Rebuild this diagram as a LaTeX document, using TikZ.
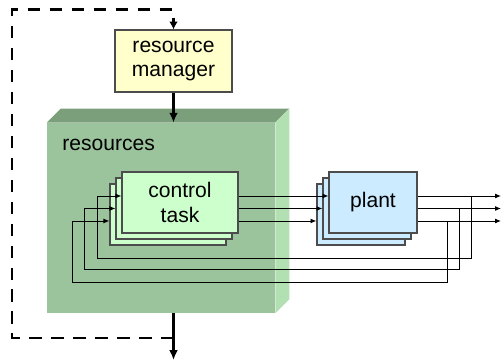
\documentclass[tikz,border=0pt]{standalone}
\usepackage{fontspec}
\setmainfont{Liberation Sans}
\usetikzlibrary{arrows.meta}
\definecolor{mgrfill}{HTML}{FFFFCC}
\definecolor{ctrlfill}{HTML}{CCFFCC}
\definecolor{plantfill}{HTML}{CCEBFF}
\definecolor{resfront}{HTML}{9CC49C}
\definecolor{restop}{HTML}{7B9F7B}
\definecolor{resside}{HTML}{B3E0B3}
\tikzset{
   block/.style={draw=black!70,line width=0.6pt,inner sep=0pt,align=center,
      font=\fontsize{12}{14.2}\selectfont},
   signal/.style={line width=0.55pt,-{Latex[length=3.4pt,width=2.8pt]}},
   flow/.style={line width=1.2pt,-{Latex[length=5.6pt,width=5pt]}},
   loopback/.style={line width=1.7pt,dash pattern=on 7pt off 5.5pt,
      -{Latex[length=4.5pt,width=5pt]}}
}

\begin{document}
\begin{tikzpicture}
   \useasboundingbox (0,0) rectangle (10.04,7.22);
   \node[fill=resfront,inner sep=0pt,minimum width=4.56cm,minimum height=3.8cm] (res) at (3.22,2.86) {};
   \fill[restop] (res.north west) -- ++(0.28,0.28) -- ([shift={(0.28,0.28)}]res.north east) -- (res.north east) -- cycle;
   \fill[resside] (res.south east) -- ++(0.28,0.28) -- ([shift={(0.28,0.28)}]res.north east) -- (res.north east) -- cycle;
   \node[anchor=west,inner sep=0pt,font=\fontsize{12}{14.2}\selectfont] (reslabel) at (1.24,4.32) {resources};

   \node[block,fill=mgrfill,minimum width=2.34cm,minimum height=1.24cm] (manager) at (3.47,6) {resource\\manager};

   \node[block,fill=ctrlfill,minimum width=2.32cm,minimum height=1.22cm] (ctrlB) at (3.36,2.93) {};
   \node[block,fill=ctrlfill,minimum width=2.32cm,minimum height=1.22cm] (ctrlM) at (3.48,3.05) {};
   \node[block,fill=ctrlfill,minimum width=2.32cm,minimum height=1.22cm] (ctrlF) at (3.60,3.17) {control\\task};

   \node[block,fill=plantfill,minimum width=1.76cm,minimum height=1.22cm] (plantB) at (7.22,2.93) {};
   \node[block,fill=plantfill,minimum width=1.76cm,minimum height=1.22cm] (plantM) at (7.34,3.05) {};
   \node[block,fill=plantfill,minimum width=1.76cm,minimum height=1.22cm] (plantF) at (7.46,3.17) {plant};

   \coordinate (b1) at (9.42,3.30);
   \coordinate (b2) at (9.18,3.05);
   \coordinate (b3) at (8.94,2.80);
   \coordinate (f1) at (1.94,2.06);
   \coordinate (f2) at (1.68,1.83);
   \coordinate (f3) at (1.44,1.58);
   \coordinate (o1) at (10.02,3.30);
   \coordinate (o2) at (10.02,3.05);
   \coordinate (o3) at (10.02,2.80);

   \draw[signal] (ctrlF.east |- b1) -- (plantF.west |- b1);
   \draw[signal] (ctrlF.east |- b2) -- (plantM.west |- b2);
   \draw[signal] (ctrlF.east |- b3) -- (plantB.west |- b3);
   \draw[signal] (plantF.east |- b1) -- (o1);
   \draw[signal] (plantF.east |- b2) -- (o2);
   \draw[signal] (plantF.east |- b3) -- (o3);
   \draw[signal] (b1) |- (f1) |- (ctrlF.west |- b1);
   \draw[signal] (b2) |- (f2) |- (ctrlM.west |- b2);
   \draw[signal] (b3) |- (f3) |- (ctrlB.west |- b3);

   \coordinate (bot) at (3.47,0.02);
   \coordinate (dl) at (0.24,0.46);
   \coordinate (dt) at (0.24,7.02);
   \draw[flow] (manager.south) -- (manager |- res.north);
   \draw[flow] (manager |- res.south) -- (bot);
   \draw[loopback] (manager |- dl) -- (dl) -- (dt) -| (manager.north);
\end{tikzpicture}
\end{document}
